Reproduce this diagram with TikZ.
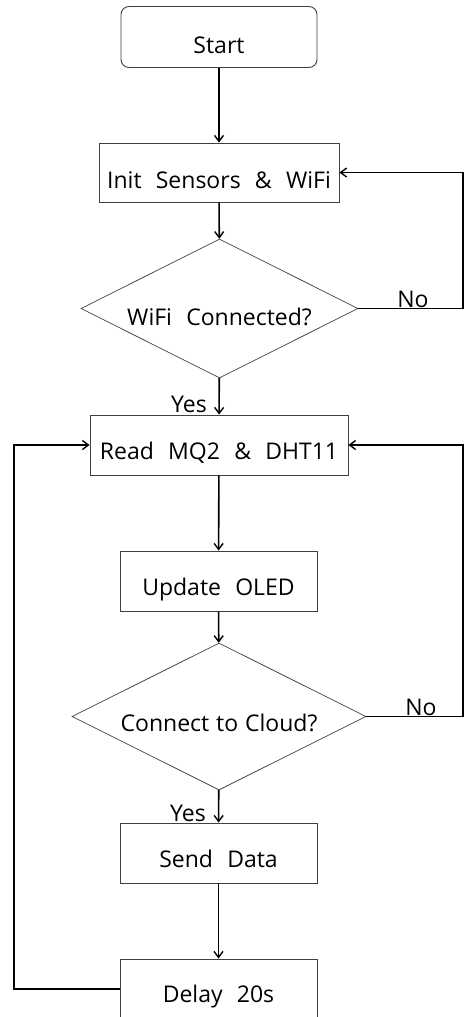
\documentclass[tikz,border=0pt]{standalone}
\usepackage{fontspec}
\setmainfont{Open Sans}
\usetikzlibrary{shapes.geometric,arrows.meta}
\newcommand{\diagfont}{\fontsize{23}{26}\selectfont\spaceskip=0.62em\relax}
\newcommand{\lowtext}[2]{\raisebox{\dimexpr -8.2pt-#1\relax}[0pt][0pt]{#2}}
\begin{document}
\begin{tikzpicture}[x=1pt,y=-1pt,
  every node/.style={font=\diagfont},
  boxstyle/.style={draw=black!75, line width=0.9pt, rectangle, inner sep=0pt},
  startstyle/.style={boxstyle, rounded corners=8pt},
  decstyle/.style={draw=black!75, line width=0.7pt, diamond, shape aspect=2, inner sep=0pt},
  conn/.style={line width=1.6pt, -{Straight Barb[length=6pt,width=9pt,line width=1.4pt]}},
  lbl/.style={inner sep=1pt}
]
\useasboundingbox (0,0) rectangle (465,1017);
\fill[white] (0,0) rectangle (465,1017);

\node[startstyle, minimum width=196pt, minimum height=61pt] (start) at (219,37) {\lowtext{8pt}{Start}};
\node[boxstyle, minimum width=240pt, minimum height=59pt] (init) at (219,172.5) {\lowtext{8pt}{Init Sensors \& WiFi}};
\node[decstyle, minimum width=277pt, minimum height=139pt] (d1) at (219.5,308.5) {\lowtext{9pt}{WiFi Connected?}};
\node[boxstyle, minimum width=258pt, minimum height=60pt] (read) at (219,445) {\lowtext{6.5pt}{Read MQ2 \& DHT11}};
\node[boxstyle, minimum width=197pt, minimum height=60pt] (update) at (218.5,581) {\lowtext{6pt}{Update OLED}};
\node[decstyle, minimum width=294pt, minimum height=147pt] (d2) at (219,716.5) {\lowtext{7pt}{\spaceskip=0.3em\relax Connect to Cloud?}};
\node[boxstyle, minimum width=197pt, minimum height=60pt] (send) at (218.5,853) {\lowtext{6pt}{Send Data}};
\node[boxstyle, minimum width=197pt, minimum height=60pt] (delay) at (218.5,989) {\lowtext{5pt}{Delay 20s}};

\coordinate (r1a) at (463,308.5);
\coordinate (r1b) at (463,172.5);
\coordinate (r2a) at (463,716.5);
\coordinate (r2b) at (463,445);
\coordinate (l1a) at (14,989);
\coordinate (l1b) at (14,445);

\draw[conn] (start) -- (init);
\draw[conn] (init) -- (d1);
\draw[conn] (d1) -- (read);
\draw[conn] (read) -- (update);
\draw[conn] (update) -- (d2);
\draw[conn] (d2) -- (send);
\draw[conn] (send) -- (delay);

\draw[conn] (d1.east) -- (r1a) -- (r1b) -- (init.east);
\draw[conn] (d2.east) -- (r2a) -- (r2b) -- (read.east);
\draw[conn] (delay.west |- l1a) -- (l1a) -- (l1b) -- (read.west);

\node[lbl, anchor=south] (no1) at (413,309) {No};
\node[lbl, anchor=south] (no2) at (421,717) {No};
\node[lbl, anchor=south] (yes1) at (189,414) {Yes};
\node[lbl, anchor=south] (yes2) at (188,823) {Yes};
\end{tikzpicture}
\end{document}
